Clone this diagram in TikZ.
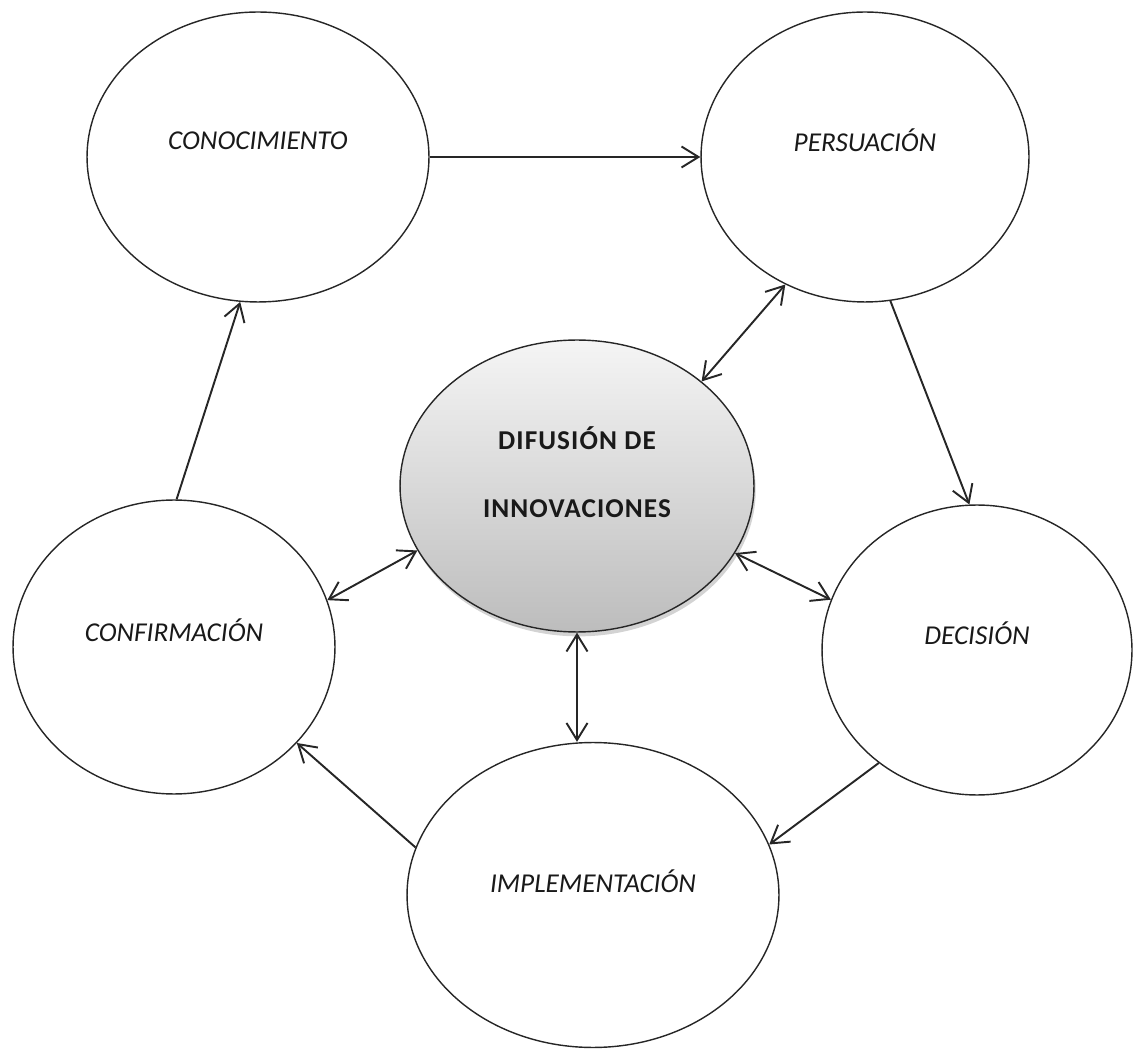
\documentclass[tikz,border=0pt]{standalone}
\usepackage{fontspec}
\setmainfont{Carlito}
\usepackage{tikz}
\usetikzlibrary{shapes.geometric,arrows.meta,shadows}
\tikzstyle{etapa} = [ellipse, draw=black!85, line width=0.8pt, fill=white, inner sep=0pt]
\tikzstyle{centro} = [etapa, top color=gray!8, bottom color=gray!52,
    drop shadow={shadow xshift=1pt, shadow yshift=-2.5pt, opacity=0.35, fill=gray}]
\tikzstyle{texto} = [font=\fontsize{15.5}{18}\selectfont\itshape, text=black!90, inner sep=0pt, yshift=0.33cm]
\tikzstyle{titulo} = [font=\fontsize{15.5}{18}\selectfont\bfseries\addfontfeatures{LetterSpace=4}, text=black!90,
    align=center, inner sep=0pt, yshift=0.28cm]
\tikzset{
  flecha/.tip={Straight Barb[length=0.34cm,width=0.42cm,line width=1.1pt]},
  line/.style ={draw, line width=1.1pt, black!85, -flecha},
  doble/.style ={line, flecha-flecha}
}

\begin{document}
\begin{tikzpicture}[x=0.02cm, y=-0.02cm]
   \useasboundingbox (0,0) rectangle (1139,1053);
   \node [etapa, minimum width=6.84cm, minimum height=5.8cm,
          label={[texto]center:CONOCIMIENTO}] (conocimiento) at (258,157) {};
   \node [etapa, minimum width=6.56cm, minimum height=5.8cm,
          label={[texto]center:PERSUACIÓN}] (persuacion) at (865,157) {};
   \node [etapa, minimum width=6.2cm, minimum height=5.8cm,
          label={[texto]center:DECISIÓN}] (decision) at (977,650) {};
   \node [etapa, minimum width=7.44cm, minimum height=6.1cm,
          label={[texto, yshift=-0.05cm]center:IMPLEMENTACIÓN}] (implementacion) at (593,895) {};
   \node [etapa, minimum width=6.44cm, minimum height=5.88cm,
          label={[texto]center:CONFIRMACIÓN}] (confirmacion) at (174,647) {};
   \node [centro, minimum width=7.08cm, minimum height=5.84cm,
          label={[titulo]center:{DIFUSIÓN DE\\[21pt]INNOVACIONES}}] (difusion) at (577,486) {};
   % ciclo
   \path [line] (conocimiento) -- (persuacion);
   \path [line] (persuacion.280) -- (decision.93);
   \path [line] (decision.229) -- (implementacion.16);
   \path [line] (implementacion.165) -- (confirmacion.322);
   \path [line] (confirmacion.89) -- (conocimiento.263);
   % centro
   \path [doble] (difusion.40) -- (persuacion.238);
   \path [doble] (difusion.337) -- (decision.161);
   \path [doble] (difusion.south) -- (difusion.south |- implementacion.north);
   \path [doble] (difusion.202) -- (confirmacion.17);
\end{tikzpicture}
\end{document}
